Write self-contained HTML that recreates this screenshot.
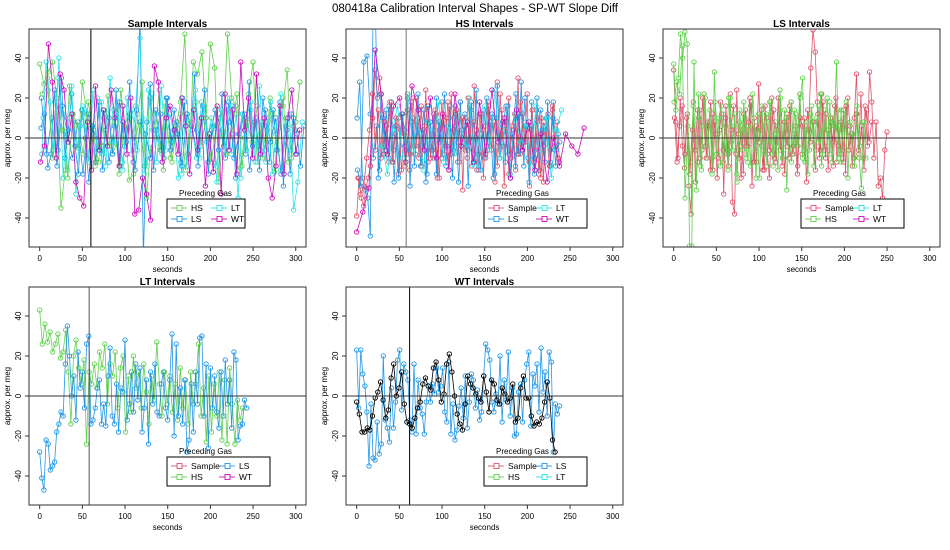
<!DOCTYPE html>
<html><head><meta charset="utf-8">
<style>
html,body{margin:0;padding:0;background:#fff;}
svg{display:block;font-family:"Liberation Sans",sans-serif;}
</style></head>
<body>
<svg id="chart" width="950" height="550" viewBox="0 0 950 550" xmlns="http://www.w3.org/2000/svg">
<text x="475" y="12" text-anchor="middle" font-size="11.5">080418a   Calibration Interval Shapes - SP-WT Slope Diff</text>
</svg>
<script>
// ---- data (values in per meg, sampled every STEP seconds from START) ----
const xTicks = [0, 50, 100, 150, 200, 250, 300];
const yTicks = [-40, -20, 0, 20, 40];
const legendLabels = ["Sample", "HS", "LS", "LT", "WT"];

// Panel 1: Sample Intervals
const p1HS = [37,27,33,38,20,-35,-16,26,8,-5,28,12,5,-14,0,-4,21,-8,-3,24,5,-21,-18,12,28,-30,-5,0,24,-16,15,-12,6,18,52,-10,38,32,43,10,47,35,-22,3,52,20,16,-15,0,22,38,-12,8,-6,20,-17,5,16,34,-10,8,28];
const p1HSb = [22,30,-10,16,4,-20,12,6,-8,18,2,-12,10,-4,14,-18,6,12,-2,8,-14,20,4,-6,16,-10,2,12,-16,8,18,-4,10,-12,6,14,-8,2,22,-14,8,-2,16,-10,4,12,-6,20,-12,6];
const p1LS = [5,12,-15,-8,24,-6,30,-10,4,22,-4,-18,14,0,-22,6,-12,18,-16,4,10,-8,24,-14,8,-2,28,-12,14,60,-60,8,27,-16,4,12,-10,20,-6,14,2,-12,18,-8,6,32,-14,10,24,-18,4,14,-6,22,-10,8,16,-20,2,12,-8,28,-4,10,-16,20,6,-12,14,-6,18,-24,4,-18,10,2,-14,6];
const p1LSb = [20,-8,10,-14,16,2,-10,8,-18,12,4,-6,14,-12,6,18,-4,10,-16,8,2,-10,14,-6,20,-2,8,-14,12,4,-8,16,-12,6,10,-4,18,-10,2,12,-16,8,-6,14,-2,10,-18,6,12,-8];
const p1LT = [-8,38,18,-4,40,-20,10,26,-28,6,14,-12,24,-6,18,-14,30,-2,10,-16,20,-8,16,50,-18,24,4,-12,26,-6,12,2,-20,20,-14,8,24,-10,16,-4,6,-22,14,-8,20,2,-30,12,-6,18,-12,26,-8,10,-18,6,22,-4,12,-36,-22,8];
const p1LTb = [10,24,-6,30,12,-16,8,-4,16,-10,6,20,-8,12,-2,18,-12,4,14,-6,10,-14,22,2,-8,16,-4,8,-18,12,6,-10,18,-2,10,-14,4,16,-8,12,-20,6,14,-4,8,-12,18,2,-16,10,-6,4];
const p1WT = [-12,-4,47,28,-10,32,24,-2,12,-22,-30,-34,8,-16,26,-6,14,-4,24,10,-14,16,-8,20,-38,-36,-20,-28,-41,36,28,-12,10,16,4,-8,20,6,-18,14,-6,10,-24,2,-17,16,-28,22,-6,14,-18,38,4,20,-10,32,-8,10,-20,-30,-14,16,-18,10,24,-8,4];

// Panel 2: HS Intervals
const p2Sample = [-39,-20,-30,-34,-25,-20,-14,10,34,20,30,12,-8,6,-12,14,-6,10,-18,4,12,-14,22,-16,8,-4,20,-10,16,-2,24,-12,8,-6,14,-20,4,18,-8,10,-16,22,-6,12,-2,18,-26,6,-10,16,-14,26,4,-8,12,-20,6,18,-4,10,-22,28,-6,14,-24,8,20,-10,4,-16,30,-8,12,-2,22,-24,6,-12,14,-18,10,-22,4,12,-14,14,-6,8,-12];
const p2SampleB = [-20,-28,-24,-10,4,22,-6,14,-10,8,-2,18,-12,6,10,-16,2,14,-8,20,-4,10,-14,6,16,-10,2,12,-20,8,-4,18,-8,4,14,-12,10,-6,20,-2,8,-16,12,4,-10,16,-6,8,-14,22,-4,10,-18,6,12,-8,18,-2,4,-12,14,-6,10,-20,8,2,-14,16,-4,-10];
const p2LS = [10,28,-20,-26,-30,-49,60,60,-20,22,-8,14,-10,18,-22,6,-16,12,-4,20,-24,10,-8,22,-14,4,-22,16,-6,12,-18,8,-10,22,-4,16,-20,6,-12,18,-2,10,-24,14,-8,24,-16,2,-10,20,-6,12,-18,26,-4,8,-12,16,-20,4,22,-8,28,-14,6,-22,18,-10,20,-16,4,-12,18,-6,10,-14,2];
const p2LSb = [-16,-24,38,41,12,-10,6,-16,10,-6,16,-12,2,-20,12,4,-8,18,-14,6,-4,14,-18,8,-10,20,-2,6,-14,10,-8,16,-22,4,12,-6,18,-12,2,-16,14,-4,8,-20,10,-10,6,16,-8,2,-14,12,-6,20,-10,4,-18,8,14,-4,10,-12,18,-6,-2];
const p2LT = [-4,-18,4,16,-10,22,-6,14,-16,8,-2,18,-12,6,-8,12,-4,20,-14,2,16,-6,24,-10,4,-18,12,-2,8,-14,16,-6,10,-20,4,14];
const p2WT = [-47,-37,-25,44,22,-8,16,20,-12,26,14,-6,20,-10,12,-16,22,-4,8,-12,18,-8,24,-2,10,-20,14,-6,8,-16,2,-22,0,-14,2,-4,-8,5];

// Panel 3: LS Intervals
const p3Sample = [34,8,-10,20,-4,-15,10,-24,-38,18,-22,-12,14,-6,22,-10,6,18,-16,8,-20,4,12,-28,16,-8,22,-32,-38,24,-10,6,-18,14,-4,20,-24,10,-12,27,4,-16,16,-8,-20,8,14,-12,20,-6,2,-18,12,-10,18,-4,6,-14,22,-8,10,-22,4,35,54,43,18,-10,22,-6,12,-16,8,-2,16,-12,4,-8,14,-18,20,6,-14,10,32,-6,22,-10,16,-4,33,18,-10,8,-24,-20,-30,-6,3];
const p3SampleB = [10,-12,6,16,-8,12,-18,4,-6,14,-10,20,-4,8,-16,12,2,-10,18,-6,10,-14,4,16,-8,2,-20,12,-4,8,18,-12,6,-2,14,-16,10,-6,20,-10,4,12,-14,8,-4,16,-8,2,-18,10,6,-12,14,-2,8,-16,12,-6,18,-10,4,10,-14,20,-4,8,-12,16,-6,2,-10,12,-8,6,-16,14,-2,8];
const p3HS = [37,14,30,52,40,53,47,-54,-54,38,-26,22,-14,6,20,-10,14,-18,33,-8,10,16,-12,6,-16,20,-6,12,-22,8,-4,18,-10,6,-14,22,-6,4,-20,16,-8,12,-2,18,-14,8,-4,24,-10,14,-26,6,18,-8,12,-4,20,30,-12,8,-6,16,-14,10,-2,22,-8,14,-4,18,-12,6,38,-10,14,-6,12,-20,8,2,-14,16,-10,-25,8,-10];
const p3HSb = [18,28,22,46,-30,6,-12,16,-6,10,-16,22,-4,8,-10,18,2,-14,12,-8,20,-2,6,-18,14,-6,10,-12,16,4,-20,12,-4,8,-14,18,-8,2,-16,20,-6,10,4,-12,14,-4,22,-10,6,-18,12,8,-6,16,-14,4,20,-8,10,-2,14,-12,6,18,-6,2,-10,12,-4,8];

// Panel 4: LT Intervals
const p4HS = [43,26,36,27,32,22,26,31,19,22,33,12,-14,20,28,14,6,18,-24,12,6,16,4,22,14,26,-4,16,10,22,-6,14,20,-18,10,-8,20,4,12,-6,16,2,-14,10,-2,27,6,-10,12,-4,10,-8,6,-12,14,-6,8,-14,12,-4,6,26,-10,4,-23,10,-18,6,-10,12,-22,8,-24,14,-4,-24,-2,-12,-6];
const p4LS = [-28,-41,-47,-22,-24,-37,-35,-33,-18,-14,-8,-10,16,35,20,0,10,-12,22,4,12,-6,26,30,-14,-12,-6,4,8,-14,-4,-15,10,24,-10,-14,6,-18,4,2,28,-12,-4,12,-8,16,-2,14,-18,-6,8,-24,12,-4,16,-8,-10,6,12,-6,-12,8,31,-20,26,-10,4,-14,8,-28,-22,6,-18,12,-4,29,30,-10,16,-26,14,-6,10,-8,-16,12,-10,18,-4,8,-16,22,18,-22,-15,-14,-2,-6];

// Panel 5: WT Intervals
const p5LS = [23,-6,23,11,5,-8,-35,-4,-31,-32,-13,-29,-24,20,-12,-16,-23,4,-16,-3,18,23,-7,16,12,8,-12,-18,16,-19,8,-6,-9,-19,-3,5,-3,6,1,14,2,5,14,-8,-13,17,-19,-4,-22,-17,-5,4,-11,10,-16,-3,11,8,-6,3,-12,-8,10,26,23,18,-3,-8,1,-4,20,-13,8,-2,22,-10,4,-20,-19,2,6,-13,8,16,22,-15,11,5,16,-8,24,2,12,-10,22,17,-28,-4,-9,-5];
const p5WT = [-3,-9,-18,-18,-16,-17,-10,-1,2,7,-2,-11,-7,9,16,0,4,12,-4,-13,-14,-16,-11,-6,-3,6,9,5,3,14,17,8,-3,1,16,21,12,0,-9,-14,-17,-4,10,6,4,1,-1,-3,10,2,-8,8,6,-2,-4,4,1,-3,-1,6,-13,-11,4,10,-1,-1,-10,-15,-13,-14,-11,-3,7,-1,-22,-28];

// ---- layout ----
const NS = "http://www.w3.org/2000/svg";
const svg = document.getElementById("chart");
const COL = {Sample:"#DF536B", HS:"#61D04F", LS:"#2297E6", LT:"#28E2E5", WT:"#CD0BBC", black:"#000000"};
const PW = 277, PH = 218;
const XMIN = -12.5, XMAX = 312, YMIN = -54.5, YMAX = 54.5;

function el(tag, attrs, parent) {
  const e = document.createElementNS(NS, tag);
  for (const k in attrs) e.setAttribute(k, attrs[k]);
  (parent || svg).appendChild(e);
  return e;
}

const panels = [
  {key:"sample", title:"Sample Intervals", left:29, top:29, vline:60, vcol:"#000",
   series:[["HS",p1HS,0,5],["LT",p1LTb,4,5.8],["LS",p1LSb,2,6.1],["HS",p1HSb,3,6],["LS",p1LS,1.5,4],["LT",p1LT,2.5,5],["WT",p1WT,1,4.6]],
   legend:[["HS","HS"],["LS","LS"],["LT","LT"],["WT","WT"]], narrow:true},
  {key:"hs", title:"HS Intervals", left:346, top:29, vline:58, vcol:"#777",
   series:[["Sample",p2Sample,0,2.7],["LS",p2LSb,1,3.7],["LS",p2LS,0.5,3.1],["Sample",p2SampleB,1.5,3.4],["LT",p2LT,30,6],["WT",p2WT,0,7.2]],
   legend:[["Sample","Sample"],["LS","LS"],["LT","LT"],["WT","WT"]]},
  {key:"ls", title:"LS Intervals", left:663, top:29, vline:null,
   series:[["Sample",p3Sample,0,2.55],["HS",p3HSb,0.5,3.2],["Sample",p3SampleB,1,3],["HS",p3HS,0,2.65]],
   legend:[["Sample","Sample"],["HS","HS"],["LT","LT"],["WT","WT"]]},
  {key:"lt", title:"LT Intervals", left:29, top:287, vline:58, vcol:"#555",
   series:[["HS",p4HS,0,3.05],["LS",p4LS,0,2.5]],
   legend:[["Sample","Sample"],["HS","HS"],["LS","LS"],["WT","WT"]]},
  {key:"wt", title:"WT Intervals", left:346, top:287, vline:62, vcol:"#000",
   series:[["LS",p5LS,0,2.4],["black",p5WT,0,3.1]],
   legend:[["Sample","Sample"],["HS","HS"],["LS","LS"],["LT","LT"]]}
];

panels.forEach((p, pi) => {
  const g = el("g", {});
  
  
  const L = p.left, T = p.top;
  const xs = v => L + (v - XMIN) / (XMAX - XMIN) * PW;
  const ys = v => T + (YMAX - v) / (YMAX - YMIN) * PH;

  const cp = el("clipPath", {id:"clip" + pi}, g);
  el("rect", {x:L, y:T, width:PW, height:PH}, cp);

  const title = el("text", {x:L + PW/2, y:T - 2, "text-anchor":"middle", "font-size":"10", "font-weight":"bold"}, g);
  title.textContent = p.title;
  
  

  const plot = el("g", {"clip-path":"url(#clip" + pi + ")"}, g);
  p.series.forEach(s => {
    const [name, vals, t0, step] = s;
    const sg = el("g", {}, plot);
    
    
    const c = COL[name];
    const pts = vals.map((v, i) => [xs(t0 + i * step), ys(v)]);
    const line = el("polyline", {points: pts.map(q => q[0].toFixed(1) + "," + q[1].toFixed(1)).join(" "), fill:"none", stroke:c, "stroke-width":"0.8"}, sg);
    
    
    pts.forEach(q => {
      const ci = el("circle", {cx:q[0].toFixed(1), cy:q[1].toFixed(1), r:"2.2", fill:"none", stroke:c, "stroke-width":"0.9"}, sg);
      
      
    });
  });

  const zl = el("line", {x1:L, x2:L+PW, y1:ys(0), y2:ys(0), stroke:"#333", "stroke-width":"1"}, g);
  
  
  if (p.vline !== null) {
    const vl = el("line", {x1:xs(p.vline), x2:xs(p.vline), y1:T, y2:T+PH, stroke:p.vcol, "stroke-width":"1"}, g);
    
    
  }

  const box = el("rect", {x:L, y:T, width:PW, height:PH, fill:"none", stroke:"#333", "stroke-width":"1"}, g);
  
  

  const xa = el("g", {}, g);
  
  
  xTicks.forEach(t => {
    el("line", {x1:xs(t), x2:xs(t), y1:T+PH, y2:T+PH+4, stroke:"#333"}, xa);
    const tx = el("text", {x:xs(t), y:T+PH+14, "text-anchor":"middle", "font-size":"8"}, xa);
    tx.textContent = t;
    
    
  });
  const xl = el("text", {x:L + PW/2, y:T+PH+25, "text-anchor":"middle", "font-size":"8"}, g);
  xl.textContent = "seconds";
  
  

  const ya = el("g", {}, g);
  
  
  yTicks.forEach(t => {
    el("line", {x1:L-4, x2:L, y1:ys(t), y2:ys(t), stroke:"#333"}, ya);
    const tx = el("text", {x:L-8, y:ys(t), "text-anchor":"middle", "font-size":"8", transform:"rotate(-90 " + (L-8) + " " + ys(t) + ")"}, ya);
    tx.textContent = t;
    
    
  });
  const yl = el("text", {x:L-19, y:T+PH/2, "text-anchor":"middle", "font-size":"8", transform:"rotate(-90 " + (L-19) + " " + (T+PH/2) + ")"}, g);
  yl.textContent = "approx. per meg";
  
  

  const lg = el("g", {}, g);
  
  
  const lx = L + 138, ly = T + 170, lw = p.narrow ? 78 : 103, lh = 29;
  const lt = el("text", {x:lx + 12, y:ly - 3, "font-size":"8"}, lg);
  lt.textContent = "Preceding Gas";
  
  
  el("rect", {x:lx, y:ly, width:lw, height:lh, fill:"#fff", stroke:"#000", "stroke-width":"1"}, lg);
  const colW = p.narrow ? 40 : 48;
  p.legend.forEach((e, i) => {
    const col = Math.floor(i / 2), row = i % 2;
    const ex = lx + 4 + col * colW, ey = ly + 9 + row * 11;
    const en = el("g", {}, lg);
    
    
    el("line", {x1:ex, x2:ex+16, y1:ey, y2:ey, stroke:COL[e[0]], "stroke-width":"0.9"}, en);
    el("rect", {x:ex+6, y:ey-2.5, width:5, height:5, fill:"#fff", stroke:COL[e[0]], "stroke-width":"0.9"}, en);
    const t = el("text", {x:ex+20, y:ey+3, "font-size":"8.5"}, en);
    t.textContent = e[1];
  });
});
</script>
</body></html>
